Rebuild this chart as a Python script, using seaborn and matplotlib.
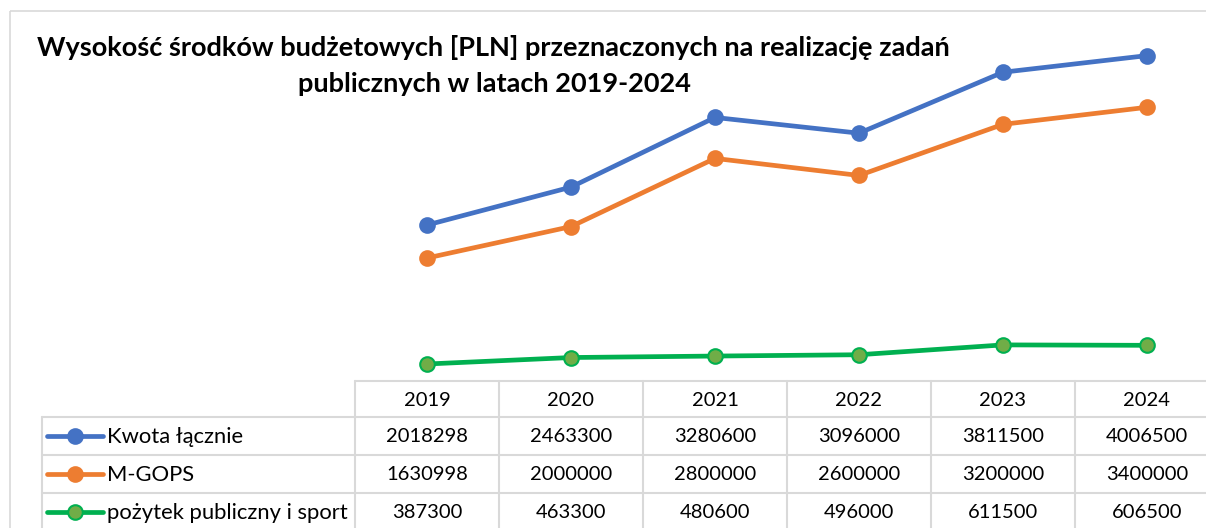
import numpy as np
import pandas as pd
import matplotlib
matplotlib.use("Agg")
import matplotlib.pyplot as plt
from matplotlib.lines import Line2D
from matplotlib.patches import Rectangle
import seaborn as sns

# ---- data ----
years = ["2019", "2020", "2021", "2022", "2023", "2024"]
kwota = [2018298, 2463300, 3280600, 3096000, 3811500, 4006500]
mgops = [1630998, 2000000, 2800000, 2600000, 3200000, 3400000]
pozytek = [387300, 463300, 480600, 496000, 611500, 606500]
series_names = ["Kwota łącznie", "M-GOPS", "pożytek publiczny i sport"]
title_line1 = "Wysokość środków budżetowych [PLN] przeznaczonych na realizację zadań"
title_line2 = "publicznych w latach 2019-2024"

sns.set_theme(style="white")
plt.rcParams["font.family"] = ["Lato", "DejaVu Sans"]

W, H = 1206, 528
fig = plt.figure(figsize=(W / 100, H / 100), dpi=100)
fig.patch.set_facecolor("white")

grid = "#d9d9d9"

# overlay axes in pixel coordinates for frame & table
ot = fig.add_axes([0, 0, 1, 1])
ot.set_xlim(0, W)
ot.set_ylim(H, 0)
ot.axis("off")

# outer frame
ot.add_patch(Rectangle((10, 11), 1300, 600, fill=False, edgecolor=grid, lw=1.2))

# main plot axes
col_left, col_w = 355, 144
ax_bottom_px, ax_top_px = 397, 11
ax = fig.add_axes([col_left / W, (H - ax_bottom_px) / H, (col_w * 6) / W, (ax_bottom_px - ax_top_px) / H])
ax.patch.set_alpha(0)

df = pd.DataFrame({
    "idx": list(range(len(years))) * 3,
    "value": kwota + mgops + pozytek,
    "series": [series_names[0]] * 6 + [series_names[1]] * 6 + [series_names[2]] * 6,
})

styles = {
    series_names[0]: dict(color="#4472C4", mfc="#4472C4", mec="#4472C4"),
    series_names[1]: dict(color="#ED7D31", mfc="#ED7D31", mec="#ED7D31"),
    series_names[2]: dict(color="#00B050", mfc="#70AD47", mec="#00B050"),
}
for name in series_names:
    st = styles[name]
    sub = df[df["series"] == name]
    sns.lineplot(data=sub, x="idx", y="value", ax=ax, color=st["color"], lw=3.4,
                 marker="o", markersize=10.5, markerfacecolor=st["mfc"],
                 markeredgecolor=st["mec"], markeredgewidth=1.5, legend=False, clip_on=False)

ax.set_xlim(-0.5, 5.5)
ax.set_ylim(0, 4530000)
ax.axis("off")

# title
ot.text(493, 48, title_line1, ha="center", va="center", fontsize=19.5,
        fontweight="bold", color="black")
ot.text(495, 84, title_line2, ha="center", va="center", fontsize=19.5,
        fontweight="bold", color="black")

# ---- data table ----
lw = 1.5
hdr_top = 381
row_lines = [417, 455, 493]
row_h = 38
legend_left = 42
right_end = 1300
ot.plot([col_left, right_end], [hdr_top, hdr_top], color=grid, lw=lw)
for yl in row_lines:
    ot.plot([legend_left, right_end], [yl, yl], color=grid, lw=lw)
ot.plot([legend_left, legend_left], [row_lines[0], 600], color=grid, lw=lw)
for i in range(7):
    xv = col_left + i * col_w
    ot.plot([xv, xv], [hdr_top, 600], color=grid, lw=lw)

fs_num = 14.5
fs_lab = 15.8
for i, yv in enumerate(years):
    ot.text(col_left + col_w * (i + 0.5), (hdr_top + row_lines[0]) / 2 + 1, yv,
            ha="center", va="center", fontsize=fs_num, color="black")

all_vals = [kwota, mgops, pozytek]
for r, name in enumerate(series_names):
    yc = row_lines[0] + row_h * (r + 0.5)
    st = styles[name]
    ot.add_line(Line2D([47, 103], [yc, yc], color=st["color"], lw=3.4))
    ot.add_line(Line2D([75], [yc], marker="o", markersize=10.5, color=st["color"],
                       markerfacecolor=st["mfc"], markeredgecolor=st["mec"], markeredgewidth=1.5))
    ot.text(107, yc + 1, name, ha="left", va="center", fontsize=fs_lab, color="black")
    for i, v in enumerate(all_vals[r]):
        ot.text(col_left + col_w * (i + 0.5), yc + 1, str(v), ha="center", va="center",
                fontsize=fs_num, color="black")

fig.savefig("out.png", dpi=100)
